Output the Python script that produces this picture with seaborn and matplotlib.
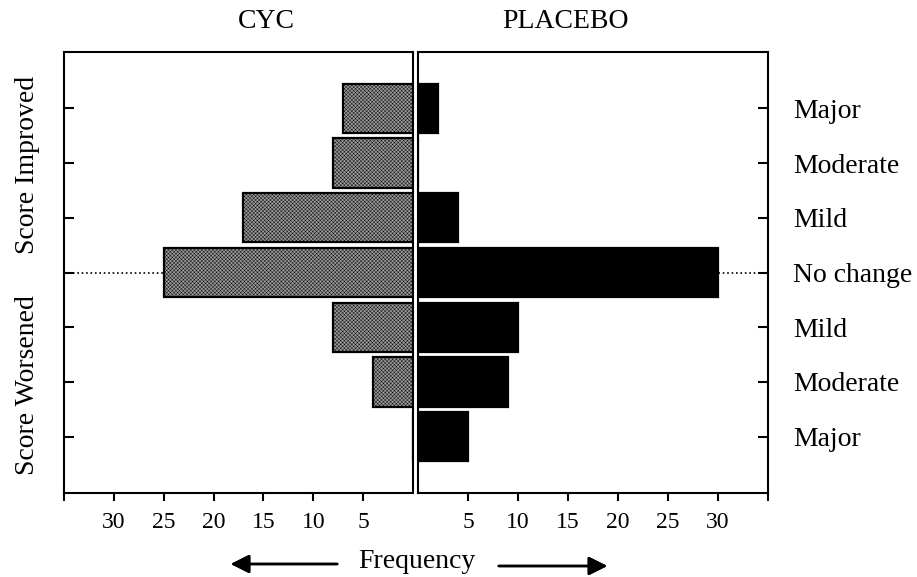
import pandas as pd
import matplotlib.pyplot as plt
import seaborn as sns

# Data (top to bottom)
levels = ['Imp Major', 'Imp Moderate', 'Imp Mild', 'No change',
          'Wor Mild', 'Wor Moderate', 'Wor Major']
level_labels = ['Major', 'Moderate', 'Mild', 'No change', 'Mild', 'Moderate', 'Major']
cyc = [7, 8, 17, 25, 8, 4, 0]
placebo = [2, 0, 4, 30, 10, 9, 5]

df = pd.DataFrame({'level': levels, 'cyc': cyc, 'placebo': placebo})

sns.set_style('white')
plt.rcParams['font.family'] = ['Liberation Serif', 'DejaVu Serif']
plt.rcParams['text.color'] = 'black'
plt.rcParams['xtick.color'] = 'black'
plt.rcParams['ytick.color'] = 'black'
plt.rcParams['xtick.labelcolor'] = 'black'
plt.rcParams['ytick.labelcolor'] = 'black'
plt.rcParams['hatch.linewidth'] = 0.3

W, H = 917, 577
fig = plt.figure(figsize=(W / 100, H / 100), dpi=100)

def box(x0, y0, x1, y1):
    return [x0 / W, 1 - y1 / H, (x1 - x0) / W, (y1 - y0) / H]

ax_l = fig.add_axes(box(64, 52, 413, 493))
ax_r = fig.add_axes(box(418, 52, 768, 493))

# dotted "no change" line behind the bars
for ax in (ax_l, ax_r):
    ax.axhline(3, ls=':', lw=1.2, color='black', zorder=0)

# CYC (left, mirrored)
sns.barplot(data=df, x='cyc', y='level', orient='h', color='#9a9a9a',
            width=0.9, edgecolor='black', linewidth=1.6, ax=ax_l, zorder=2)
for p in ax_l.patches:
    p.set_hatch('xxxxxxxxx')

# Placebo (right)
sns.barplot(data=df, x='placebo', y='level', orient='h', color='black',
            width=0.9, edgecolor='black', linewidth=1.6, ax=ax_r, zorder=2)

for ax in (ax_l, ax_r):
    ax.set_ylim(7.03, -1.03)
    ax.set_xlabel('')
    ax.set_ylabel('')
    for s in ax.spines.values():
        s.set_visible(True)
        s.set_color('black')
        s.set_linewidth(1.5)

ax_l.set_xlim(35, 0)
ax_r.set_xlim(0, 35)

# x ticks
ax_l.set_xticks([35, 30, 25, 20, 15, 10, 5])
ax_l.set_xticklabels(['', '30', '25', '20', '15', '10', '5'])
ax_r.set_xticks([5, 10, 15, 20, 25, 30, 35])
ax_r.set_xticklabels(['5', '10', '15', '20', '25', '30', ''])
for ax in (ax_l, ax_r):
    ax.tick_params(axis='x', bottom=True, direction='out', length=5.5,
                   width=1.5, labelsize=17, pad=8)

# y ticks
ax_l.set_yticks(range(len(levels)))
ax_l.set_yticklabels([])
ax_l.tick_params(axis='y', left=True, direction='in', length=7, width=1.5)
ax_l.set_yticks([3], minor=True)
ax_l.tick_params(axis='y', which='minor', left=True, direction='out', length=3, width=1.5)

ax_r.set_yticks(range(len(levels)))
ax_r.set_yticklabels(level_labels)
ax_r.yaxis.tick_right()
ax_r.tick_params(axis='y', left=False, right=True, direction='in', length=7,
                 width=1.5, labelsize=20, pad=18)
ax_r.set_yticks([3], minor=True)
ax_r.tick_params(axis='y', which='minor', left=False, right=True, direction='out',
                 length=3, width=1.5)

# titles and side labels
fig.text(266 / W, 1 - 22 / H, 'CYC', ha='center', va='center', fontsize=20)
fig.text(565 / W, 1 - 22 / H, 'PLACEBO', ha='center', va='center', fontsize=20)
fig.text(28 / W, 1 - 165 / H, 'Score Improved', rotation=90,
         ha='center', va='center', fontsize=20)
fig.text(28 / W, 1 - 385 / H, 'Score Worsened', rotation=90,
         ha='center', va='center', fontsize=20)

# Frequency with arrows
fig.text(417 / W, 1 - 562 / H, 'Frequency', ha='center', va='center', fontsize=20)
fig.add_artist(plt.annotate('', xy=(228 / W, 1 - 564 / H), xytext=(340 / W, 1 - 564 / H),
               xycoords='figure fraction', textcoords='figure fraction',
               arrowprops=dict(arrowstyle='-|>', color='black', lw=1.8,
                               mutation_scale=28)))
fig.add_artist(plt.annotate('', xy=(610 / W, 1 - 566 / H), xytext=(496 / W, 1 - 566 / H),
               xycoords='figure fraction', textcoords='figure fraction',
               arrowprops=dict(arrowstyle='-|>', color='black', lw=1.8,
                               mutation_scale=28)))

fig.savefig('out.png', dpi=100)
